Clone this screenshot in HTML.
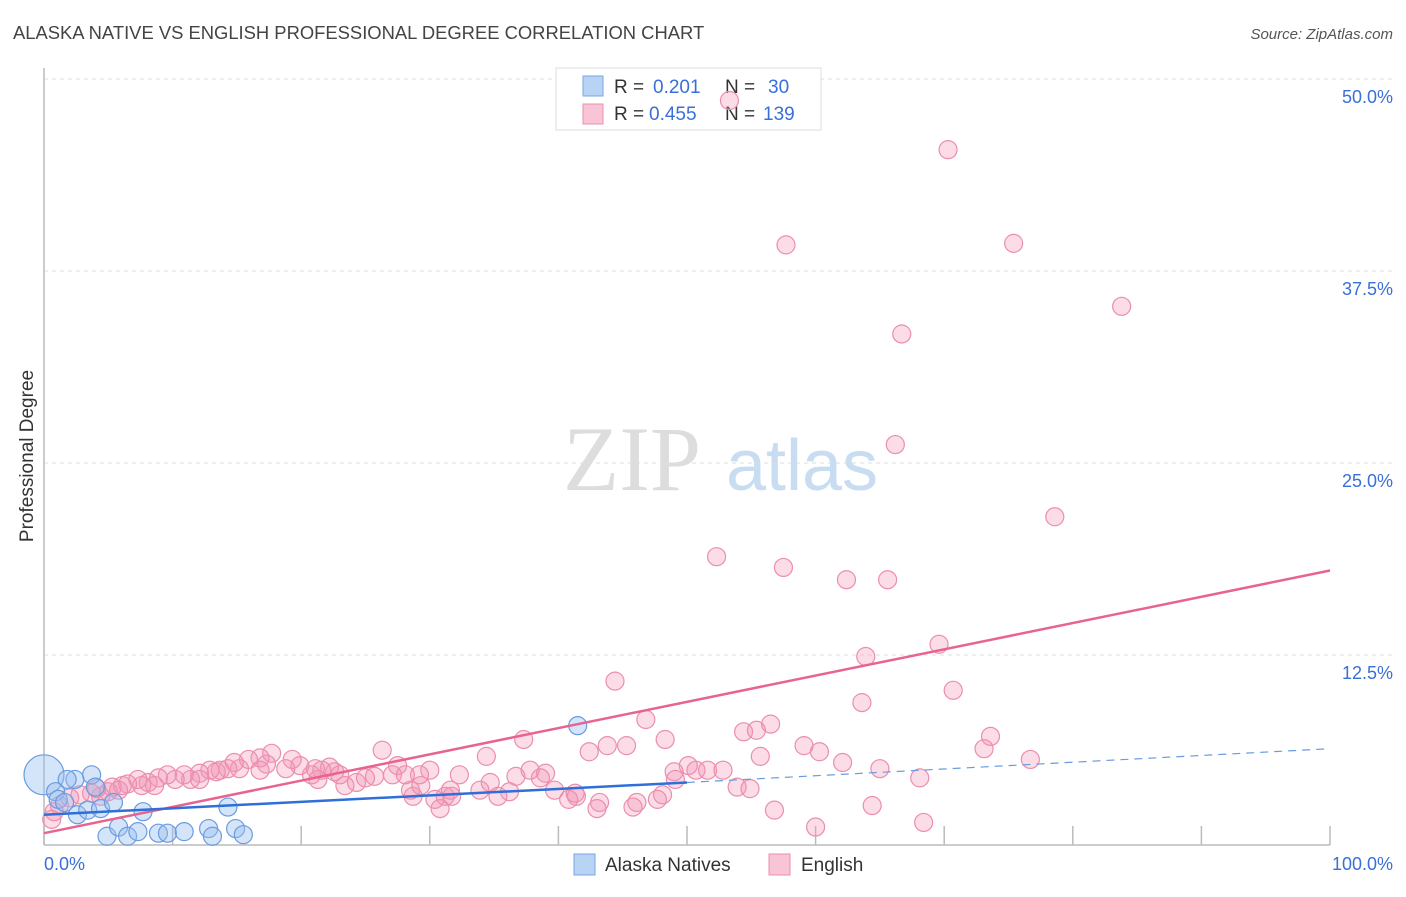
<!DOCTYPE html>
<html><head><meta charset="utf-8"><style>
body{margin:0;background:#fff;font-family:"Liberation Sans",sans-serif;}
</style></head><body>
<svg id="chart" width="1406" height="892" viewBox="0 0 1406 892" xmlns="http://www.w3.org/2000/svg">
<text x="13" y="39" font-size="18.4" fill="#444" font-family="Liberation Sans, sans-serif">ALASKA NATIVE VS ENGLISH PROFESSIONAL DEGREE CORRELATION CHART</text>
<text x="1393" y="39" font-size="15" fill="#555" text-anchor="end" font-style="italic">Source: ZipAtlas.com</text>
<g>
<text x="632" y="490" font-size="92" fill="#ddd" text-anchor="middle" font-family="Liberation Serif, serif">ZIP</text>
<text x="802" y="490" font-size="72" fill="#c8dcf2" text-anchor="middle">atlas</text>
</g>
<g id="grid"></g>
<g id="axes"></g>
<g>
<rect x="556" y="68" width="265" height="62" fill="#fff" stroke="#ddd"/>
<rect x="583" y="76" width="20" height="20" fill="#b9d3f5" stroke="#7aa6e3"/>
<rect x="583" y="104" width="20" height="20" fill="#f9c5d6" stroke="#ea8fb0"/>
<text x="614" y="93" font-size="19" fill="#333">R =  <tspan fill="#3a6fd8" x="653">0.201</tspan></text>
<text x="725" y="93" font-size="19" fill="#333">N =  <tspan fill="#3a6fd8" x="768">30</tspan></text>
<text x="614" y="120" font-size="19" fill="#333">R =  <tspan fill="#3a6fd8" x="649">0.455</tspan></text>
<text x="725" y="120" font-size="19" fill="#333">N = <tspan fill="#3a6fd8" x="763">139</tspan></text>
</g>
<g id="marks"></g>
<text transform="translate(33,456) rotate(-90)" font-size="19" fill="#333" text-anchor="middle">Professional Degree</text>
<g>
<rect x="574" y="854" width="21" height="21" fill="#b9d3f5" stroke="#7aa6e3"/>
<text x="605" y="871" font-size="19" fill="#333">Alaska Natives</text>
<rect x="769" y="854" width="21" height="21" fill="#f9c5d6" stroke="#ea8fb0"/>
<text x="801" y="871" font-size="19" fill="#333">English</text>
</g>
</svg>
<script>
const yTicks=[12.5,25,37.5,50];
const yTickLabels=["12.5%","25.0%","37.5%","50.0%"];
const xTicks=[0,10,20,30,40,50,60,70,80,90,100];
const blueX=[0,3.7,2.4,1.8,0.9,4.0,1.1,1.6,2.6,3.4,4.4,5.4,7.7,4.9,5.8,6.5,7.3,8.9,9.6,10.9,12.8,13.1,14.3,14.9,15.5,41.5];
const blueY=[4.7,4.7,4.4,4.4,3.6,3.9,3.1,2.9,2.1,2.4,2.5,2.9,2.3,0.7,1.3,0.7,1.0,0.9,0.9,1.0,1.2,0.7,2.6,1.2,0.8,7.9];
const pinkX=[53.3,70.3,57.7,75.4,83.8,66.7,66.2,78.6,52.3,57.5,62.4,65.6,69.6,63.9,44.4,70.7,63.6,46.8,56.5,54.4,55.4,73.6,73.1,37.3,48.3,59.1,60.3,62.1,55.7,76.7,65.0,68.1,43.8,45.3,42.4,26.3,34.4,50.7,51.6,52.8,50.1,49.0,49.1,53.9,54.9,56.8,60.0,64.4,68.4,48.1,47.7,46.1,45.8,43.2,43.0,41.4,40.8,41.3,39.0,38.6,36.7,37.8,39.7,36.2,34.7,32.3,31.2,31.6,33.9,35.3,31.7,30.8,30.4,28.7,28.5,29.3,30.0,27.5,27.1,25.7,24.3,23.4,22.6,22.2,21.6,21.3,20.8,19.9,19.3,18.8,17.7,17.3,16.8,15.9,15.2,14.8,14.3,13.7,13.4,12.9,12.1,11.4,10.9,10.2,9.6,8.9,8.1,7.6,7.3,6.5,6.1,5.3,5.0,4.4,3.7,2.8,2.0,1.2,0.8,0.6,4.1,5.8,8.6,12.1,16.8,21.1,23.0,25.0,29.2,28.1];
const pinkY=[48.6,45.4,39.2,39.3,35.2,33.4,26.2,21.5,18.9,18.2,17.4,17.4,13.2,12.4,10.8,10.2,9.4,8.3,8.0,7.5,7.6,7.2,6.4,7.0,7.0,6.6,6.2,5.5,5.9,5.7,5.1,4.5,6.6,6.6,6.2,6.3,5.9,5.0,5.0,5.0,5.3,4.9,4.4,3.9,3.8,2.4,1.3,2.7,1.6,3.4,3.1,2.9,2.6,2.9,2.5,3.3,3.1,3.5,4.8,4.5,4.6,5.0,3.7,3.6,4.2,4.7,3.3,3.7,3.7,3.3,3.3,2.5,3.1,3.3,3.7,4.0,5.0,5.3,4.7,4.6,4.2,4.0,4.9,5.2,5.0,4.4,4.7,5.3,5.7,5.1,6.1,5.4,5.8,5.7,5.1,5.5,5.1,5.0,4.9,5.0,4.8,4.4,4.7,4.4,4.7,4.5,4.2,4.0,4.4,4.1,4.0,3.9,3.6,3.3,3.5,3.4,3.2,2.7,2.3,1.8,3.8,3.7,4.0,4.4,5.0,5.1,4.7,4.5,4.7,4.7];
const pinkTrend=[0.9,18.0];
const blueTrend=[2.1,4.2,6.4];
const NS="http://www.w3.org/2000/svg";
const X0=44,X1=1330,Y0=847,PPY=15.36;
function sx(v){return X0+(X1-X0)*v/100;}
function sy(v){return Y0-v*PPY;}
function mk(tag,attrs,parent){const e=document.createElementNS(NS,tag);for(const k in attrs)e.setAttribute(k,attrs[k]);parent.appendChild(e);return e;}
const grid=document.getElementById('grid'),axes=document.getElementById('axes'),marks=document.getElementById('marks');
yTicks.forEach((t,i)=>{
 const l=mk('line',{x1:X0,x2:1393,y1:sy(t),y2:sy(t),stroke:'#ddd','stroke-dasharray':'4,4'},grid);
 
 
 const tx=mk('text',{x:1393,y:sy(t)+24,'font-size':18,fill:'#3a6fd8','text-anchor':'end'},axes);
 tx.textContent=yTickLabels[i];
 
 
});
const ax=mk('line',{x1:X0,x2:X0,y1:68,y2:845,stroke:'#bbb','stroke-width':1.5},axes);


const bx=mk('line',{x1:X0,x2:X1,y1:845,y2:845,stroke:'#bbb','stroke-width':1.5},axes);


xTicks.forEach(t=>{
 const l=mk('line',{x1:sx(t),x2:sx(t),y1:826,y2:845,stroke:'#bbb','stroke-width':1.5},axes);
 
 
});
const xl0=mk('text',{x:44,y:870,'font-size':18,fill:'#3a6fd8'},axes);xl0.textContent='0.0%';


const xl1=mk('text',{x:1393,y:870,'font-size':18,fill:'#3a6fd8','text-anchor':'end'},axes);xl1.textContent='100.0%';


pinkX.forEach((v,i)=>{
 const c=mk('circle',{cx:sx(v),cy:sy(pinkY[i]),r:9,fill:'rgba(244,150,182,0.33)',stroke:'#eb8eae','stroke-width':1.2},marks);
 
 
});
blueX.forEach((v,i)=>{
 const c=mk('circle',{cx:sx(v),cy:sy(blueY[i]),r:i===0?20:9,fill:'rgba(150,190,240,0.4)',stroke:'#6a9be0','stroke-width':1.2},marks);
 
 
});
const pt=mk('line',{x1:sx(0),y1:sy(pinkTrend[0]),x2:sx(100),y2:sy(pinkTrend[1]),stroke:'#e8638f','stroke-width':2.5},marks);


const bt=mk('line',{x1:sx(0),y1:sy(blueTrend[0]),x2:sx(50),y2:sy(blueTrend[1]),stroke:'#2e6fd8','stroke-width':2.5},marks);


const bd=mk('line',{x1:sx(50),y1:sy(blueTrend[1]),x2:sx(100),y2:sy(blueTrend[2]),stroke:'#6a9be0','stroke-width':1.2,'stroke-dasharray':'8,6'},marks);


</script>
</body></html>
